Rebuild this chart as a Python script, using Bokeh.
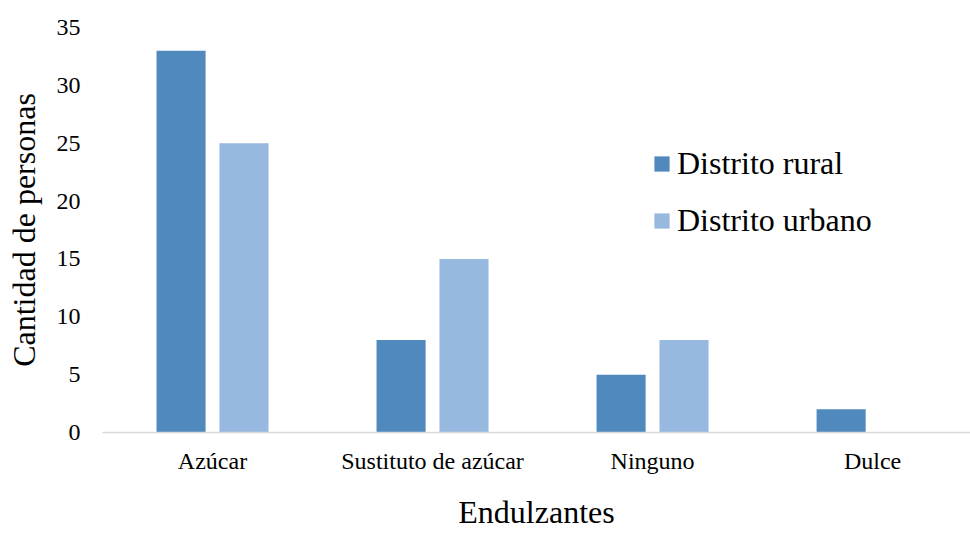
from bokeh.plotting import figure
from bokeh.models import ColumnDataSource, FixedTicker, Legend, LegendItem, Range1d
from bokeh.embed import file_html
from bokeh.resources import INLINE

# Sweetener use by district
categories = ["Azúcar", "Sustituto de azúcar", "Ninguno", "Dulce"]
rural = [33, 8, 5, 2]
urbano = [25, 15, 8, 0]
y_ticks = [0, 5, 10, 15, 20, 25, 30, 35]

FONT = "Liberation Serif"
RURAL_COLOR = "#4f89bd"
URBANO_COLOR = "#97b9e0"

x = list(range(len(categories)))
src = ColumnDataSource(dict(
    x_r=[i - 0.143 for i in x],
    x_u=[i + 0.143 for i in x],
    rural=rural,
    urbano=urbano,
))

p = figure(
    width=970, height=533,
    output_backend="svg", toolbar_location=None,
    x_range=Range1d(-0.5, 3.445), y_range=Range1d(0, 35),
    min_border_left=102, min_border_right=0,
    min_border_top=27, min_border_bottom=101,
)
p.outline_line_color = None
p.xgrid.grid_line_color = None
p.ygrid.grid_line_color = None
p.background_fill_color = "white"
p.border_fill_color = "white"

r1 = p.vbar(x="x_r", top="rural", width=0.223, source=src,
            fill_color=RURAL_COLOR, line_color=None)
r2 = p.vbar(x="x_u", top="urbano", width=0.223, source=src,
            fill_color=URBANO_COLOR, line_color=None)

# x axis
xa = p.xaxis[0]
xa.ticker = FixedTicker(ticks=x)
xa.major_label_overrides = {i: c for i, c in enumerate(categories)}
xa.axis_line_color = "#d9d9d9"
xa.axis_line_width = 1.5
xa.major_tick_line_color = None
xa.minor_tick_line_color = None
xa.major_label_text_font = FONT
xa.major_label_text_font_size = "24px"
xa.major_label_text_color = "black"
xa.major_label_standoff = 9
xa.axis_label = "Endulzantes"
xa.axis_label_text_font = FONT
xa.axis_label_text_font_size = "32px"
xa.axis_label_text_font_style = "normal"
xa.axis_label_text_color = "black"
xa.axis_label_standoff = 17

# y axis
ya = p.yaxis[0]
ya.ticker = FixedTicker(ticks=y_ticks)
ya.axis_line_color = None
ya.major_tick_line_color = None
ya.minor_tick_line_color = None
ya.major_label_text_font = FONT
ya.major_label_text_font_size = "24px"
ya.major_label_text_color = "black"
ya.major_label_standoff = 16
ya.axis_label = "Cantidad de personas"
ya.axis_label_text_font = FONT
ya.axis_label_text_font_size = "32px"
ya.axis_label_text_font_style = "normal"
ya.axis_label_text_color = "black"
ya.axis_label_standoff = 12

legend = Legend(
    items=[LegendItem(label="Distrito rural", renderers=[r1]),
           LegendItem(label="Distrito urbano", renderers=[r2])],
    location=(550, 193),
    label_text_font=FONT, label_text_font_size="32px", label_text_color="black",
    glyph_width=19, glyph_height=19, label_standoff=6,
    label_height=30, spacing=20, padding=0, margin=0,
    border_line_color=None, background_fill_alpha=0,
)
p.add_layout(legend, "center")

open("out.html", "w").write(file_html(p, INLINE))
